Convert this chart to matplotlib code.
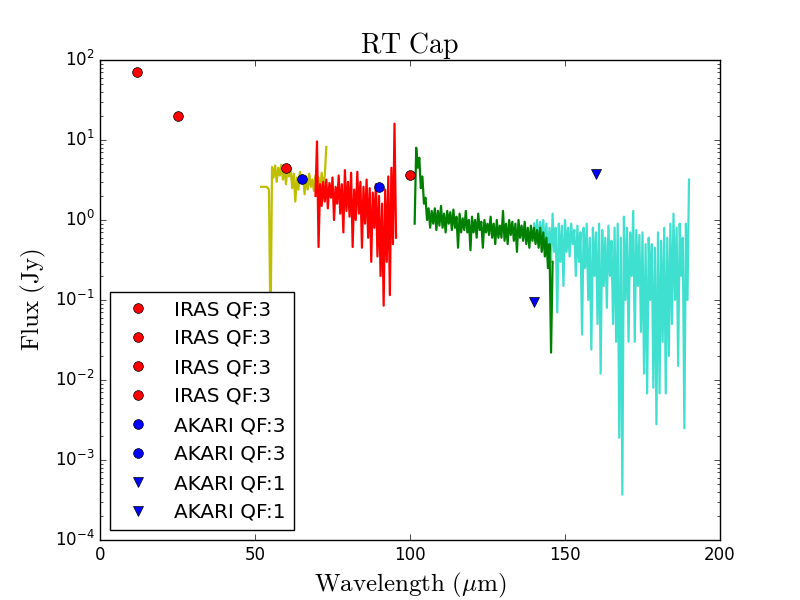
import numpy as np
import matplotlib
matplotlib.use("Agg")
import matplotlib.pyplot as plt

plt.style.use('classic')
plt.rcParams['mathtext.fontset'] = 'cm'

# Photometry points
iras_wl = [12, 25, 60, 100]
iras_flux = [70.0, 20.0, 4.5, 3.6]
akari3_wl = [65, 90]
akari3_flux = [3.3, 2.6]
akari1_wl = [140, 160]
akari1_flux = [0.095, 3.8]

yel_range = (52.0, 73.0)
yel_flux = [2.6, 2.6, 2.6, 2.6, 2.55, 2.4, 0.04, 4.6, 3.4, 4.8, 3.0, 4.5, 3.6, 4.9,
            3.2, 4.4, 2.8, 4.6, 3.5, 4.2, 2.5, 3.8, 1.7, 3.4, 2.4, 4.0, 2.9, 3.6,
            2.1, 3.5, 2.4, 3.8, 2.6, 3.2, 2.3, 3.6, 2.5, 3.4, 2.2, 3.9, 2.7, 3.5, 8.2]

red_range = (69.5, 95.5)
red_flux = [2.0, 9.6, 0.46, 2.8, 1.5, 3.0, 1.7, 3.2, 1.4, 2.9, 1.9, 3.4, 1.0, 2.6,
            1.6, 3.6, 1.2, 2.8, 0.7, 4.2, 1.3, 3.0, 1.1, 3.9, 0.46, 2.4, 1.0, 4.0,
            1.2, 3.0, 0.45, 2.6, 0.9, 3.2, 0.6, 2.5, 0.3, 2.2, 0.8, 2.8, 0.35, 2.0,
            0.2, 1.6, 0.085, 2.4, 0.3, 3.5, 0.115, 4.5, 0.5, 16.0, 0.6]

grn_range = (101.5, 146.0)
grn_flux = [0.9, 8.0, 4.5, 6.0, 2.5, 3.5, 1.6, 1.9, 1.0, 1.4, 0.8, 1.3, 0.9, 1.4,
            0.75, 1.3, 0.85, 1.5, 0.8, 1.2, 0.7, 1.3, 0.9, 1.25, 0.75, 1.35, 0.8,
            1.1, 0.45, 1.2, 0.7, 1.05, 0.75, 1.3, 0.7, 1.0, 0.42, 1.1, 0.7, 1.0,
            0.6, 1.2, 0.75, 0.95, 0.45, 1.0, 0.7, 0.9, 0.65, 1.1, 0.6, 0.9, 0.5,
            1.0, 0.6, 0.85, 0.6, 1.3, 0.55, 0.9, 0.5, 1.0, 0.65, 0.95, 0.55, 0.9,
            0.4, 1.0, 0.6, 0.85, 0.55, 0.95, 0.5, 0.8, 0.45, 0.85, 0.55, 0.8, 0.5,
            0.75, 0.45, 0.8, 0.4, 0.7, 0.35, 0.6, 0.25, 0.5, 0.022, 0.3]

cyn_range = (140.0, 190.0)
cyn_flux = [0.9, 0.6, 1.0, 0.5, 0.95, 0.55, 1.0, 0.45, 0.9, 0.35, 0.8, 0.3, 1.2,
            0.4, 0.8, 0.07, 0.9, 0.3, 0.85, 0.15, 1.0, 0.4, 0.8, 0.35, 0.9, 0.5,
            0.75, 0.2, 0.85, 0.3, 0.7, 0.037, 0.8, 0.25, 0.9, 0.1, 0.6, 0.024, 0.8,
            0.2, 0.7, 0.05, 0.9, 0.012, 0.75, 0.15, 0.6, 0.08, 0.85, 0.2, 0.55,
            0.05, 0.8, 0.03, 0.9, 0.0019, 0.6, 0.00037, 1.1, 0.1, 0.8, 0.03, 0.7,
            0.2, 1.3, 0.03, 0.75, 0.15, 0.65, 0.04, 0.7, 0.012, 0.5, 0.0068, 0.6,
            0.1, 0.5, 0.008, 0.45, 0.0028, 0.7, 0.0068, 0.55, 0.03, 0.8, 0.0068,
            0.6, 0.02, 0.9, 0.05, 1.2, 0.1, 0.8, 0.015, 0.9, 0.2, 0.6, 0.0025, 0.9,
            0.1, 3.2]

fig = plt.figure(figsize=(8, 6), dpi=100, facecolor='white')
ax = fig.add_subplot(111)

spectra = [(yel_range, yel_flux, 'y'),
           (red_range, red_flux, 'r'),
           (cyn_range, cyn_flux, 'turquoise'),
           (grn_range, grn_flux, 'g')]
for (lo, hi), flux, color in spectra:
    wl = np.linspace(lo, hi, len(flux))
    ax.plot(wl, flux, color=color, lw=1.6)

# Points
for w, f in zip(iras_wl, iras_flux):
    ax.plot(w, f, 'o', color='r', mec='k', mew=0.5, ms=7, label='IRAS QF:3')
for w, f in zip(akari3_wl, akari3_flux):
    ax.plot(w, f, 'o', color='b', mec='k', mew=0.5, ms=7, label='AKARI QF:3')
for w, f in zip(akari1_wl, akari1_flux):
    ax.plot(w, f, 'v', color='b', mec='k', mew=0.5, ms=7, label='AKARI QF:1')

ax.set_yscale('log')
ax.set_xlim(0, 200)
ax.set_ylim(1e-4, 1e2)
ax.set_title(r'$\mathrm{RT\ Cap}$', fontsize=20)
ax.set_xlabel(r'$\mathrm{Wavelength\ (}\mu\mathrm{m)}$', fontsize=18)
ax.set_ylabel(r'$\mathrm{Flux\ (Jy)}$', fontsize=18)
ax.legend(loc='lower left', numpoints=1, fontsize=14.4)

plt.savefig('out.png', dpi=100, facecolor='white')
